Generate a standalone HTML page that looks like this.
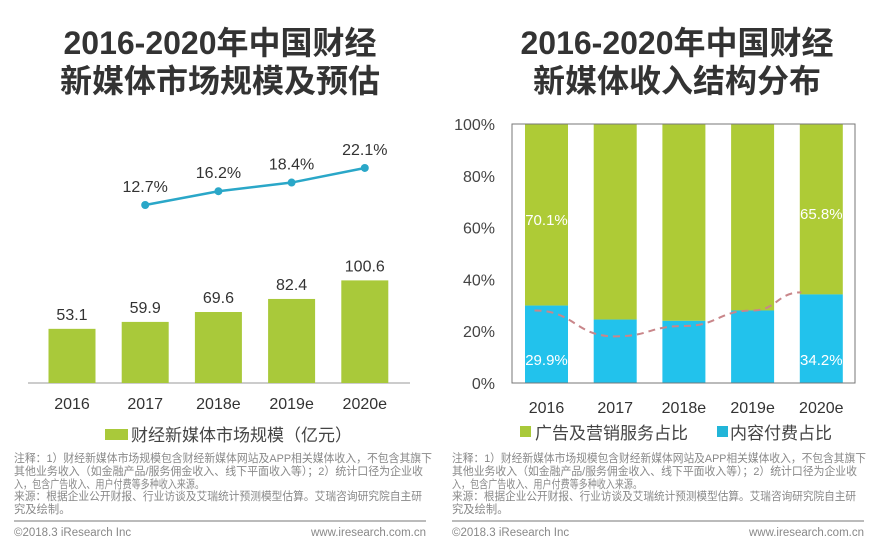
<!DOCTYPE html>
<html><head><meta charset="utf-8">
<style>
html,body{margin:0;padding:0;background:#fff;}
svg{display:block;font-family:"Liberation Sans","Noto Sans CJK SC",sans-serif;}
</style></head>
<body>
<svg id="chart" width="873" height="544" viewBox="0 0 873 544" xmlns="http://www.w3.org/2000/svg">
<g font-weight="bold" font-size="32" fill="#333" text-anchor="middle" font-family="Liberation Sans,'Noto Sans CJK SC',sans-serif">
<text x="220" y="54">2016-2020年中国财经</text>
<text x="220" y="92">新媒体市场规模及预估</text>
<text x="677" y="54">2016-2020年中国财经</text>
<text x="677" y="92">新媒体收入结构分布</text>
</g>
<g id="left"></g>
<g id="right"></g>
<g>
<rect x="105" y="429" width="23" height="11" fill="#a9c93a"/>
<text x="131" y="441" font-size="17" fill="#444">财经新媒体市场规模（亿元）</text>
</g>
<g>
<rect x="520" y="426" width="11" height="11" fill="#a9c93a"/>
<text x="535" y="439" font-size="17" fill="#444">广告及营销服务占比</text>
<rect x="717" y="426" width="11" height="11" fill="#22b5d8"/>
<text x="730" y="439" font-size="17" fill="#444">内容付费占比</text>
</g>
<g font-size="11.3" fill="#888">
<text x="14" y="462" textLength="418" lengthAdjust="spacingAndGlyphs">注释：1）财经新媒体市场规模包含财经新媒体网站及APP相关媒体收入，不包含其旗下</text>
<text x="14" y="475" textLength="409" lengthAdjust="spacingAndGlyphs">其他业务收入（如金融产品/服务佣金收入、线下平面收入等）；2）统计口径为企业收</text>
<text x="14" y="488" textLength="190" lengthAdjust="spacingAndGlyphs">入，包含广告收入、用户付费等多种收入来源。</text>
<text x="14" y="500" textLength="408" lengthAdjust="spacingAndGlyphs">来源：根据企业公开财报、行业访谈及艾瑞统计预测模型估算。艾瑞咨询研究院自主研</text>
<text x="14" y="513">究及绘制。</text>
</g>
<g font-size="11.3" fill="#888">
<text x="452" y="462" textLength="414" lengthAdjust="spacingAndGlyphs">注释：1）财经新媒体市场规模包含财经新媒体网站及APP相关媒体收入，不包含其旗下</text>
<text x="452" y="475" textLength="405" lengthAdjust="spacingAndGlyphs">其他业务收入（如金融产品/服务佣金收入、线下平面收入等）；2）统计口径为企业收</text>
<text x="452" y="488" textLength="190" lengthAdjust="spacingAndGlyphs">入，包含广告收入、用户付费等多种收入来源。</text>
<text x="452" y="500" textLength="404" lengthAdjust="spacingAndGlyphs">来源：根据企业公开财报、行业访谈及艾瑞统计预测模型估算。艾瑞咨询研究院自主研</text>
<text x="452" y="513">究及绘制。</text>
</g>
<line x1="14" y1="521" x2="426" y2="521" stroke="#777" stroke-width="1"/>
<line x1="452" y1="521" x2="864" y2="521" stroke="#777" stroke-width="1"/>
<g font-size="11.5" fill="#888">
<text x="14" y="536">©2018.3 iResearch Inc</text>
<text x="426" y="536" text-anchor="end">www.iresearch.com.cn</text>
<text x="452" y="536">©2018.3 iResearch Inc</text>
<text x="864" y="536" text-anchor="end">www.iresearch.com.cn</text>
</g>
</svg>
<script>
const years = ["2016","2017","2018e","2019e","2020e"];
const marketSize = [53.1,59.9,69.6,82.4,100.6];
const growthYears = ["2017","2018e","2019e","2020e"];
const growthRate = [12.7,16.2,18.4,22.1];
const adShare = [70.1,75.5,76.0,72.0,65.8];
const contentShare = [29.9,24.5,24.0,28.0,34.2];
const trendShare = [28,18,22,28,35];
const yTicks = [0,20,40,60,80,100];

const NS="http://www.w3.org/2000/svg";
function mk(parent,tag,attrs,text){const e=document.createElementNS(NS,tag);for(const k in attrs)e.setAttribute(k,attrs[k]);if(text!==undefined)e.textContent=text;parent.appendChild(e);return e;}

// Left chart
const L=document.getElementById('left');
const lx=i=>72+i*73.2, lBase=383, ly=v=>lBase-v*1.02;
const gy=v=>205-(v-12.7)*3.94;
mk(L,'line',{x1:28,y1:lBase,x2:410,y2:lBase,stroke:'#999','stroke-width':1});
years.forEach((y,i)=>{
  const b=mk(L,'rect',{x:lx(i)-23.5,y:ly(marketSize[i]),width:47,height:lBase-ly(marketSize[i]),fill:'#a9c93a'});
  
  
  const t=mk(L,'text',{x:lx(i),y:ly(marketSize[i])-9,'font-size':16,fill:'#333','text-anchor':'middle'},marketSize[i].toFixed(1));
  
  
  const xl=mk(L,'text',{x:lx(i),y:409,'font-size':16,fill:'#333','text-anchor':'middle'},y);
  
  
});
const gi=growthYears.map(g=>years.indexOf(g));
const pl=mk(L,'polyline',{points:gi.map((k,j)=>lx(k)+','+gy(growthRate[j])).join(' '),fill:'none',stroke:'#2aa7c8','stroke-width':2.5});


gi.forEach((k,j)=>{
  const c=mk(L,'circle',{cx:lx(k),cy:gy(growthRate[j]),r:4,fill:'#2aa7c8'});
  
  
  const t=mk(L,'text',{x:lx(k),y:gy(growthRate[j])-13,'font-size':16,fill:'#333','text-anchor':'middle'},growthRate[j].toFixed(1)+'%');
  
  
});

// Right chart
const R=document.getElementById('right');
const px0=512,px1=855,pt=124,pb=383;
const ry=v=>pb-v/100*(pb-pt), rx=i=>546.5+i*68.7;
yTicks.forEach(v=>{
  const t=mk(R,'text',{x:495,y:ry(v)+6,'font-size':16,fill:'#444','text-anchor':'end'},v+'%');
  
  
});
years.forEach((y,i)=>{
  const bw=43;
  const g=mk(R,'rect',{x:rx(i)-bw/2,y:pt,width:bw,height:ry(contentShare[i])-pt,fill:'#aecb36'});
  
  
  const b=mk(R,'rect',{x:rx(i)-bw/2,y:ry(contentShare[i]),width:bw,height:pb-ry(contentShare[i]),fill:'#22c2ec'});
  
  
  const xl=mk(R,'text',{x:rx(i),y:413,'font-size':16,fill:'#333','text-anchor':'middle'},y);
  
  
});
const fr=mk(R,'rect',{x:px0,y:pt,width:px1-px0,height:pb-pt,fill:'none',stroke:'#777','stroke-width':1});


let d='';
const pts=trendShare.map((v,i)=>[rx(i)-(i===0?12:0)+(i===4?-20:0),ry(v)]);
d='M'+pts[0][0]+','+pts[0][1];
for(let i=1;i<pts.length;i++){const a=pts[i-1],b=pts[i],mx=(a[0]+b[0])/2;d+=' C'+mx+','+a[1]+' '+mx+','+b[1]+' '+b[0]+','+b[1];}
const tr=mk(R,'path',{d:d,fill:'none',stroke:'#c9868a','stroke-width':2,'stroke-dasharray':'7 5'});


[[0,'first'],[4,'last']].forEach(([i,n])=>{
  const a=mk(R,'text',{x:rx(i),y:ry(100-adShare[i]/2)+10,'font-size':15,fill:'#fff','text-anchor':'middle'},adShare[i].toFixed(1)+'%');
  
  
  const c=mk(R,'text',{x:rx(i),y:pb-18,'font-size':15,fill:'#fff','text-anchor':'middle'},contentShare[i].toFixed(1)+'%');
  
  
});
</script>
</body></html>
